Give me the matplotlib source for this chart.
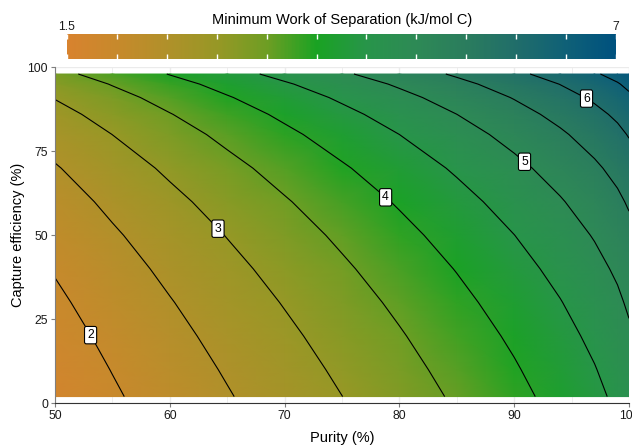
import numpy as np
import matplotlib
matplotlib.use("Agg")
import matplotlib.pyplot as plt
from matplotlib.colors import LinearSegmentedColormap

# grid: purity (%) across, capture efficiency (%) down
purity = [50, 55, 60, 65, 70, 75, 80, 85, 90, 94, 97, 99, 100]
capture = [2, 10, 20, 30, 40, 50, 60, 70, 80, 86, 91, 95, 98]

# minimum work of separation (kJ/mol C), one row per capture value
min_work = [
    [1.684, 1.946, 2.207, 2.468, 2.730, 2.997, 3.272, 3.561, 3.872, 4.151, 4.392, 4.588, 4.724],
    [1.744, 2.012, 2.277, 2.541, 2.806, 3.076, 3.353, 3.644, 3.958, 4.237, 4.479, 4.676, 4.812],
    [1.828, 2.101, 2.372, 2.640, 2.909, 3.183, 3.463, 3.757, 4.072, 4.354, 4.597, 4.794, 4.931],
    [1.922, 2.202, 2.477, 2.750, 3.024, 3.300, 3.584, 3.880, 4.199, 4.482, 4.726, 4.925, 5.062],
    [2.028, 2.315, 2.596, 2.874, 3.151, 3.432, 3.719, 4.018, 4.339, 4.624, 4.870, 5.068, 5.206],
    [2.151, 2.444, 2.731, 3.014, 3.296, 3.580, 3.870, 4.172, 4.496, 4.783, 5.030, 5.230, 5.368],
    [2.294, 2.595, 2.888, 3.177, 3.463, 3.751, 4.044, 4.350, 4.676, 4.964, 5.213, 5.414, 5.552],
    [2.467, 2.776, 3.076, 3.370, 3.661, 3.952, 4.249, 4.558, 4.886, 5.177, 5.427, 5.629, 5.767],
    [2.685, 3.002, 3.309, 3.608, 3.904, 4.200, 4.500, 4.812, 5.143, 5.436, 5.687, 5.890, 6.029],
    [2.850, 3.172, 3.483, 3.786, 4.084, 4.383, 4.686, 4.999, 5.332, 5.626, 5.878, 6.081, 6.221],
    [3.020, 3.346, 3.661, 3.967, 4.268, 4.568, 4.873, 5.188, 5.523, 5.818, 6.071, 6.274, 6.414],
    [3.192, 3.523, 3.840, 4.148, 4.451, 4.754, 5.060, 5.376, 5.712, 6.008, 6.261, 6.465, 6.605],
    [3.365, 3.698, 4.017, 4.328, 4.632, 4.936, 5.243, 5.561, 5.897, 6.194, 6.448, 6.652, 6.792],
]

levels = [2, 2.5, 3, 3.5, 4, 4.5, 5, 5.5, 6, 6.5]
label_levels = [2, 3, 4, 5, 6]
label_purity = [53.1, 64.2, 78.8, 90.9, 96.3]
cbar_ticks = [1.5, 2, 2.5, 3, 3.5, 4, 4.5, 5, 5.5, 6, 6.5, 7]
cbar_limits = (1.5, 7)

stops = ["#D8832F", "#C78A2C", "#B0912A", "#979826", "#6E9E24", "#1AA323",
         "#28954A", "#2E8A56", "#2B7D5E", "#216E6A", "#106177", "#00527F"]


def main():
    cmap = LinearSegmentedColormap.from_list("sep", stops)
    vmin, vmax = cbar_limits
    plt.rcParams["font.family"] = ["Liberation Sans", "DejaVu Sans"]

    fig = plt.figure(figsize=(6.32, 4.45), dpi=100)
    ax = fig.add_axes([55 / 632, 1 - 403.3 / 445, 574 / 632, 336 / 445])

    Z = np.array(min_work)
    ax.pcolormesh(purity, capture, Z, shading="gouraud", cmap=cmap, vmin=vmin, vmax=vmax, zorder=1)
    cs = ax.contour(purity, capture, Z, levels=levels, colors="black", linewidths=0.8, zorder=2)

    # boxed labels placed on their contour line
    for lev, px in zip(label_levels, label_purity):
        v = cs.get_paths()[levels.index(lev)].vertices
        order = np.argsort(v[:, 0])
        cy = np.interp(px, v[order, 0], v[order, 1])
        ax.text(px, cy, f"{lev:g}", ha="center", va="center", fontsize=8.8, zorder=4,
                bbox=dict(boxstyle="round,pad=0.22,rounding_size=0.15", fc="white", ec="black", lw=0.8))

    ax.set_xlim(50, 100)
    ax.set_ylim(0, 100)
    ax.set_xticks([50, 60, 70, 80, 90, 100])
    ax.set_xticks([55, 65, 75, 85, 95], minor=True)
    ax.set_yticks([0, 25, 50, 75, 100])
    ax.set_yticks([12.5, 37.5, 62.5, 87.5], minor=True)
    ax.grid(True, which="major", color="#EBEBEB", lw=1.0, zorder=0)
    ax.grid(True, which="minor", color="#EBEBEB", lw=0.6, zorder=0)
    ax.set_axisbelow(True)
    for s in ["top", "right"]:
        ax.spines[s].set_visible(False)
    ax.spines["left"].set_color("#7F7F7F")
    ax.spines["bottom"].set_color("#333333")
    ax.tick_params(which="major", length=3, width=0.8, color="#7F7F7F", labelsize=8.8,
                   labelcolor="#1A1A1A", pad=2)
    ax.tick_params(which="minor", length=0)
    ax.set_xlabel("Purity (%)", fontsize=10.5, labelpad=6)
    ax.set_ylabel("Capture efficiency (%)", fontsize=10.5, labelpad=2)

    # horizontal colour bar above the panel
    cax = fig.add_axes([67 / 632, 1 - 59 / 445, 549 / 632, 25 / 445])
    grad = np.linspace(vmin, vmax, 400).reshape(1, -1)
    cax.imshow(grad, extent=[vmin, vmax, 0, 1], aspect="auto", cmap=cmap, vmin=vmin, vmax=vmax)
    cax.vlines(cbar_ticks, 0, 0.2, colors="white", lw=1)
    cax.vlines(cbar_ticks, 0.8, 1, colors="white", lw=1)
    cax.set_xlim(vmin, vmax)
    cax.set_ylim(0, 1)
    cax.set_axis_off()
    cax.text(vmin, 1.05, f"{vmin:g}", ha="center", va="bottom", fontsize=8.8, color="#1A1A1A")
    cax.text(vmax, 1.05, f"{vmax:g}", ha="center", va="bottom", fontsize=8.8, color="#1A1A1A")
    fig.text(342 / 632, 1 - 20 / 445, "Minimum Work of Separation (kJ/mol C)",
             ha="center", va="center", fontsize=10.5)

    fig.savefig("out.png", dpi=100)
    plt.close(fig)


if __name__ == "__main__":
    main()
